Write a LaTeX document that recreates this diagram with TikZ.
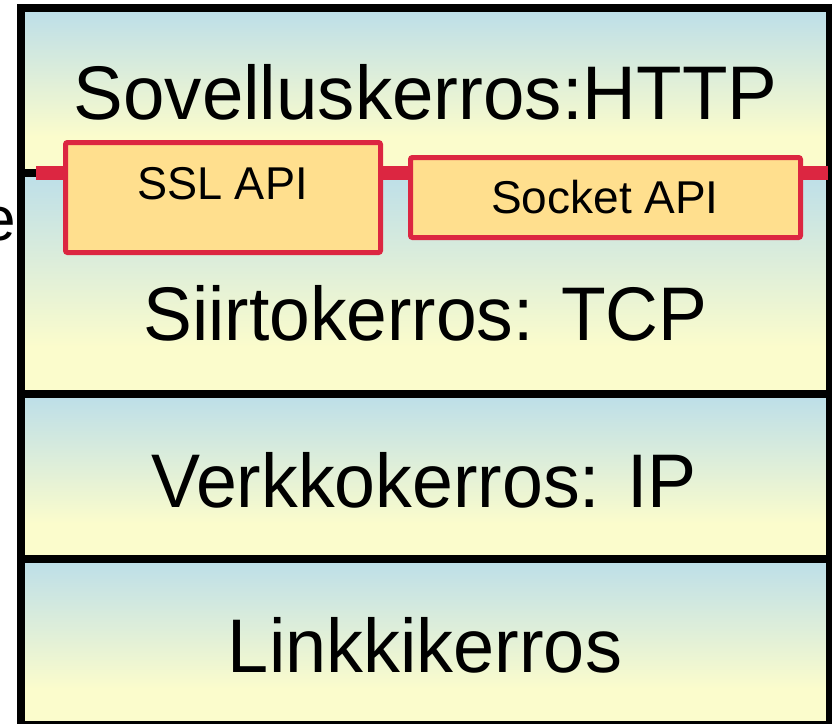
\documentclass[tikz,border=0pt]{standalone}
\usepackage{fontspec}
\setmainfont{Liberation Sans}
\definecolor{layblue}{HTML}{BEDFE8}
\definecolor{layyellow}{HTML}{FBFCCC}
\definecolor{apired}{HTML}{DC2641}
\definecolor{apifill}{HTML}{FFDF8E}
\tikzset{
  layertext/.style={anchor=base, inner sep=0pt, font=\fontsize{76}{80}\selectfont},
  apitext/.style={anchor=base, inner sep=0pt, font=\fontsize{46}{50}\selectfont},
  apibox/.style={draw=apired, line width=5pt, fill=apifill, rounded corners=2pt, inner sep=0pt},
  divider/.style={line width=8pt},
  wash/.style={top color=layblue, bottom color=layyellow},
}
\begin{document}
\begin{tikzpicture}[x=1pt,y=-1pt]
\useasboundingbox (0,0) rectangle (832,723);
\clip (0,0) rectangle (832,723);

% layer backgrounds: blue fading into yellow, plain yellow near the bottom
\fill[layyellow] (21,8) rectangle (830,725);
\shade[wash] (21,12)  rectangle (830,137);
\shade[wash] (21,177) rectangle (830,347);
\shade[wash] (21,398) rectangle (830,524);
\shade[wash] (21,563) rectangle (830,689);

% outer frame and layer dividers
\draw[divider] (21,8) rectangle (830,725);
\draw[divider] (21,172.5) -- (830,172.5);
\draw[divider] (21,394) -- (830,394);
\draw[divider] (21,559) -- (830,559);

% interface line between application and transport
\coordinate (ifL) at (36,172.5);
\coordinate (ifR) at (828,172.5);
\draw[apired, line width=14pt] (ifL) -- (ifR);

% API boxes
\node[apibox, minimum width=315pt, minimum height=110pt] (ssl) at (223,197.5) {};
\node[apibox, minimum width=390pt, minimum height=80pt] (sock) at (605.5,197.5) {};
\node[apitext, xscale=0.98] (ssltext) at (222.5,199) {SSL API};
\node[apitext] (socktext) at (605,213) {Socket API};

% layer names
\node[layertext, xscale=0.98]  (app) at (425.5,119) {Sovelluskerros:HTTP};
\node[layertext, xscale=0.963] (tra) at (425.5,340) {Siirtokerros: TCP};
\node[layertext, xscale=0.967] (net) at (424,507) {Verkkokerros: IP};
\node[layertext, xscale=0.972] (lnk) at (425,672) {Linkkikerros};

% cut-off letter at the left edge
\node[anchor=base west, inner sep=0pt, font=\fontsize{62}{62}\selectfont] (cut) at (-18.6,240) {e};
\end{tikzpicture}
\end{document}
